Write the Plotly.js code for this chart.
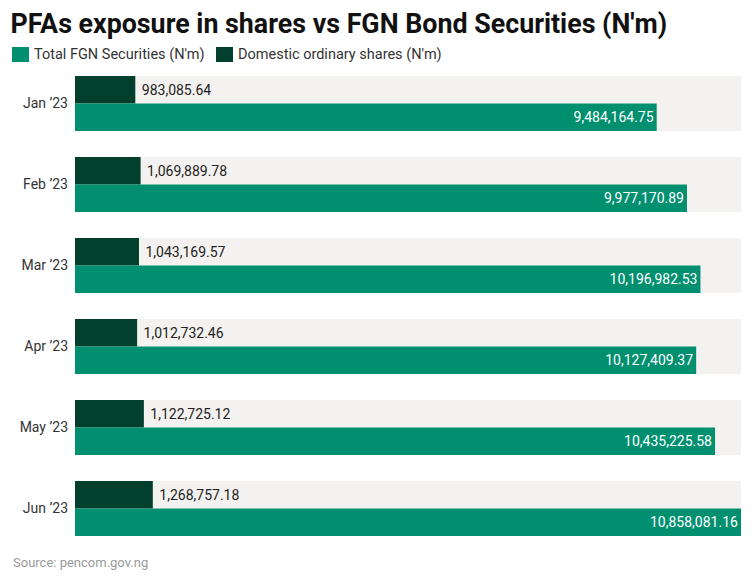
<!DOCTYPE html>
<html>
<head>
<meta charset="utf-8">
<script src="https://cdn.plot.ly/plotly-3.0.1.min.js"></script>
<style>html,body{margin:0;padding:0;background:#fff;}#chart{width:755px;height:581px;}</style>
</head>
<body>
<div id="chart"></div>
<script>
const months = ["Jan ’23", "Feb ’23", "Mar ’23", "Apr ’23", "May ’23", "Jun ’23"];
const domesticShares = [983085.64, 1069889.78, 1043169.57, 1012732.46, 1122725.12, 1268757.18];
const fgnSecurities = [9484164.75, 9977170.89, 10196982.53, 10127409.37, 10435225.58, 10858081.16];
const seriesNames = ["Total FGN Securities (N'm)", "Domestic ordinary shares (N'm)"];

const DARK = "#033f2d";
const TEAL = "#01906f";
const BAND = "#f4f2f0";
const FONT = "Roboto, 'Noto Sans', sans-serif";
const axisMax = Math.max(...fgnSecurities);

const W = 755, H = 581;
const M = {l: 75, r: 14, t: 63, b: 32};
const PW = W - M.l - M.r, PH = H - M.t - M.b;
const px2x = p => (p - M.l) / PW;
const py2y = p => (H - M.b - p) / PH;

const traces = [
  {
    type: "bar", orientation: "h", name: seriesNames[1],
    y: months, x: domesticShares,
    marker: {color: DARK},
    texttemplate: "\u00a0%{x:,.2f}", textposition: "outside",
    textfont: {color: "#222", size: 14, family: FONT},
    cliponaxis: false, hoverinfo: "x", showlegend: false
  },
  {
    type: "bar", orientation: "h", name: seriesNames[0],
    y: months, x: fgnSecurities,
    marker: {color: TEAL},
    texttemplate: "%{x:,.2f}", textposition: "inside", insidetextanchor: "end",
    textfont: {color: "#fff", size: 14, family: FONT},
    hoverinfo: "x", showlegend: false
  }
];

const halfBand = (1 - 0.32) / 2;
const shapes = months.map((m, i) => ({
  type: "rect", layer: "below", xref: "paper", yref: "y",
  x0: 0, x1: 1, y0: i - halfBand, y1: i + halfBand,
  fillcolor: BAND, line: {width: 0}
}));

// custom legend (larger swatches as in the reference)
const legendItems = [
  {name: seriesNames[0], color: TEAL, sx: 12, tx: 32},
  {name: seriesNames[1], color: DARK, sx: 216, tx: 236}
];
const annotations = [];
legendItems.forEach(it => {
  shapes.push({
    type: "rect", xref: "paper", yref: "paper",
    x0: px2x(it.sx), x1: px2x(it.sx + 17), y0: py2y(62), y1: py2y(47),
    fillcolor: it.color, line: {width: 0}
  });
  annotations.push({
    text: it.name, showarrow: false, xref: "paper", yref: "paper",
    x: px2x(it.tx), xanchor: "left", y: py2y(54.5), yanchor: "middle",
    font: {family: FONT, size: 14.5, color: "#333"}
  });
});
annotations.push({
  text: "Source: pencom.gov.ng", showarrow: false,
  xref: "paper", yref: "paper", x: px2x(11), xanchor: "left",
  y: py2y(562), yanchor: "middle",
  font: {family: FONT, size: 13, color: "#9a9a9a"}
});

const layout = {
  width: W, height: H,
  margin: Object.assign({autoexpand: false}, M),
  paper_bgcolor: "#fff", plot_bgcolor: "#fff",
  font: {family: FONT, size: 14, color: "#333"},
  title: {
    text: "<b>PFAs exposure in shares vs FGN Bond Securities (N'm)</b>",
    font: {family: FONT, size: 26.8, color: "#111"},
    xref: "container", x: 0.014, xanchor: "left",
    yref: "container", y: 1 - 24 / H, yanchor: "middle"
  },
  showlegend: false,
  barmode: "group", bargap: 0.32, bargroupgap: 0,
  xaxis: {range: [0, axisMax], visible: false, showgrid: false, zeroline: false, fixedrange: true},
  yaxis: {
    autorange: "reversed", showgrid: false, zeroline: false, showline: false,
    ticks: "", ticklen: 0, tickfont: {family: FONT, size: 14, color: "#333"},
    ticklabelstandoff: 6, automargin: false
  },
  shapes: shapes,
  annotations: annotations
};

Plotly.newPlot("chart", traces, layout, {displayModeBar: false, staticPlot: true});
</script>
</body>
</html>
